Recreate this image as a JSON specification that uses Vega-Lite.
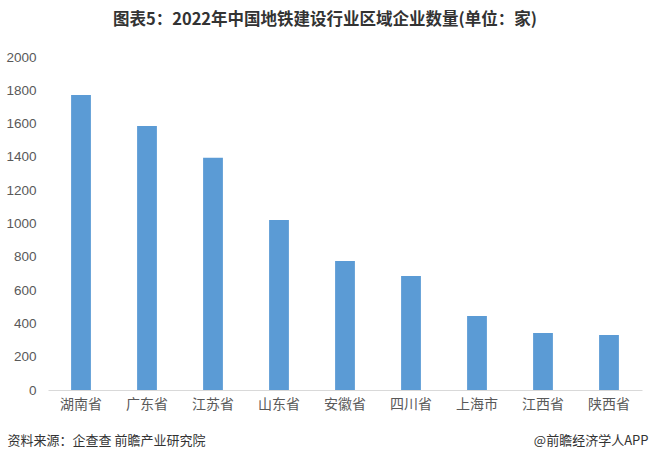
{
  "$schema": "https://vega.github.io/schema/vega-lite/v6.json",
  "autosize": {"type": "none"},
  "padding": {"left": 48, "top": 57, "right": 7, "bottom": 71},
  "width": 594,
  "height": 333,
  "background": "white",
  "title": {
    "text": "图表5：2022年中国地铁建设行业区域企业数量(单位：家)",
    "font": "Noto Sans CJK SC",
    "fontSize": 16.5,
    "fontWeight": "bold",
    "color": "#333333",
    "anchor": "middle",
    "dx": -20,
    "offset": 22
  },
  "data": {
    "values": [
      {"region": "湖南省", "count": 1772},
      {"region": "广东省", "count": 1586},
      {"region": "江苏省", "count": 1395},
      {"region": "山东省", "count": 1021},
      {"region": "安徽省", "count": 775},
      {"region": "四川省", "count": 685},
      {"region": "上海市", "count": 444},
      {"region": "江西省", "count": 342},
      {"region": "陕西省", "count": 330}
    ]
  },
  "mark": {"type": "bar", "color": "#5b9bd5"},
  "encoding": {
    "x": {
      "field": "region",
      "type": "nominal",
      "sort": null,
      "scale": {"paddingInner": 0.7, "paddingOuter": 0.35},
      "axis": {
        "title": "资料来源：企查查 前瞻产业研究院",
        "titleFont": "Noto Sans CJK SC",
        "titleFontSize": 13,
        "titleFontWeight": "normal",
        "titleColor": "#333333",
        "titleAlign": "left",
        "titleAnchor": null,
        "titleBaseline": "middle",
        "titleX": -41,
        "titleY": 50.5,
        "labelAngle": 0,
        "labelFont": "Noto Sans CJK SC",
        "labelFontSize": 14,
        "labelColor": "#595959",
        "labelPadding": 7,
        "ticks": false,
        "domainColor": "#d9d9d9",
        "domainWidth": 1.2
      }
    },
    "y": {
      "field": "count",
      "type": "quantitative",
      "scale": {"domain": [0, 2000]},
      "axis": {
        "values": [0, 200, 400, 600, 800, 1000, 1200, 1400, 1600, 1800, 2000],
        "format": "d",
        "title": "@前瞻经济学人APP",
        "titleFont": "Noto Sans CJK SC",
        "titleFontSize": 13,
        "titleFontWeight": "normal",
        "titleColor": "#333333",
        "titleAngle": 0,
        "titleAlign": "right",
        "titleAnchor": null,
        "titleBaseline": "middle",
        "titleX": 600,
        "titleY": 383.5,
        "labelFont": "Liberation Sans",
        "labelFontSize": 13.5,
        "labelColor": "#595959",
        "labelPadding": 12,
        "ticks": false,
        "domain": false,
        "grid": false
      }
    }
  },
  "config": {"view": {"stroke": null}}
}
